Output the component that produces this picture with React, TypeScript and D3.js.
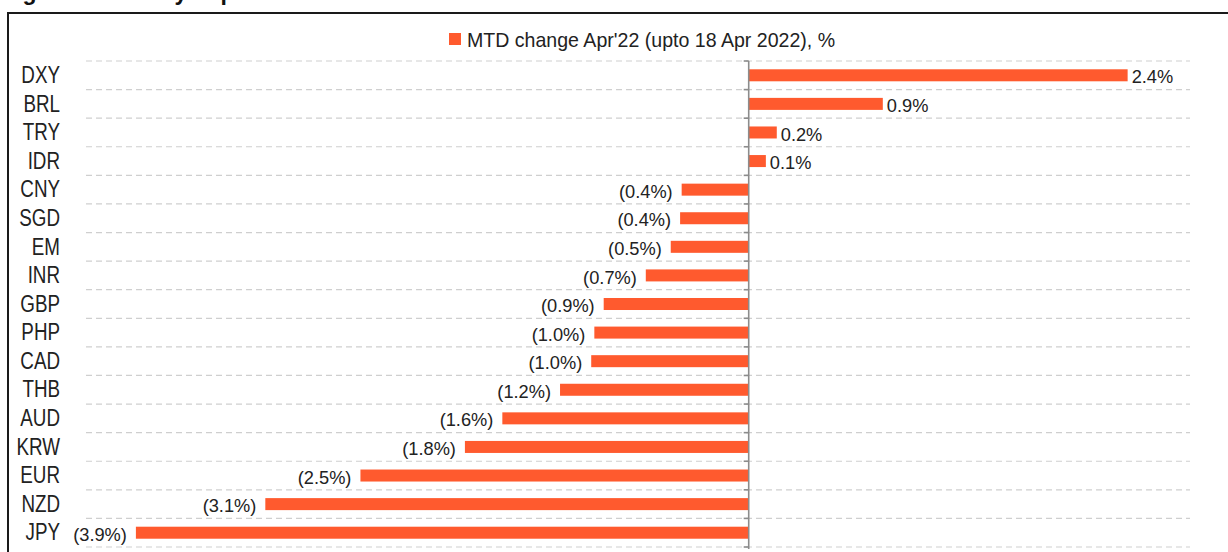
import React from "react";
import * as d3 from "d3";

// MTD change Apr'22 (upto 18 Apr 2022), %
const categories = ["DXY", "BRL", "TRY", "IDR", "CNY", "SGD", "EM", "INR", "GBP", "PHP", "CAD", "THB", "AUD", "KRW", "EUR", "NZD", "JPY"];
const mtdChange = [2.43, 0.86, 0.18, 0.11, -0.43, -0.44, -0.5, -0.66, -0.93, -0.99, -1.01, -1.21, -1.58, -1.82, -2.49, -3.1, -3.93];
const valueDomain = [-4.25, 2.83];
const legendLabel = "MTD change Apr'22 (upto 18 Apr 2022), %";
const cutTitle = "Figure: Currency depreciation";

const W = 1228;
const H = 552;
const BAR = "#ff5a2e";
const TEXT = "#222";
const FONT = "'Liberation Sans', Arial, sans-serif";

const fmt = (v: number) => (v >= 0 ? `${v.toFixed(1)}%` : `(${Math.abs(v).toFixed(1)}%)`);

export default function App() {
    const x = d3.scaleLinear().domain(valueDomain).range([86, 1190]);
    const y = d3.scaleBand<string>()
        .domain(categories)
        .range([61, 547])
        .paddingInner(0.58)
        .paddingOuter(0.29);

    const x0 = x(0);
    const step = y.step();
    const top = y.range()[0];
    const gridYs = d3.range(categories.length + 1).map(i => top + i * step);

    return (
        <svg
            width={W}
            height={H}
            style={{ position: "absolute", left: 0, top: 0, background: "#fff" }}
            fontFamily={FONT}
        >
            {/* title of the page, cut off by the crop */}
            <text x={2} y={0} fontSize={23} fontWeight="bold" fill="#111">{cutTitle}</text>

            {/* frame */}
            <rect x={8} y={13} width={W + 20} height={H + 20} fill="none" stroke="#1a1a1a" strokeWidth={2} />

            {/* legend */}
            <rect x={449} y={33} width={12} height={12} fill={BAR} />
            <text transform="translate(467,47.3) scale(0.955,1)" fontSize={20.5} fill={TEXT}>{legendLabel}</text>

            {/* gridlines */}
            {gridYs.map((gy, i) => (
                <line key={i} x1={86} x2={1190} y1={gy} y2={gy} stroke="#cfcfcf" strokeWidth={1.2} strokeDasharray="6 4" />
            ))}

            {/* bars */}
            {categories.map((c, i) => {
                const v = mtdChange[i];
                const bx = Math.min(x(v), x0);
                return <rect key={c} x={bx} y={y(c)!} width={Math.abs(x(v) - x0)} height={y.bandwidth()} fill={BAR} />;
            })}

            {/* zero axis with ticks */}
            <line x1={x0} x2={x0} y1={top} y2={549} stroke="#8c8c8c" strokeWidth={1.6} />
            {gridYs.map((gy, i) => (
                <line key={i} x1={x0 - 5} x2={x0} y1={gy} y2={gy} stroke="#8c8c8c" strokeWidth={1.6} />
            ))}

            {/* category labels */}
            {categories.map(c => (
                <text
                    key={c}
                    transform={`translate(60,${y(c)! + y.bandwidth() / 2}) scale(0.8,1)`}
                    textAnchor="end"
                    dominantBaseline="central"
                    fontSize={23.5}
                    fill={TEXT}
                >
                    {c}
                </text>
            ))}

            {/* value labels */}
            {categories.map((c, i) => {
                const v = mtdChange[i];
                const lx = v >= 0 ? x(v) + 4 : x(v) - 9;
                return (
                    <text
                        key={c}
                        transform={`translate(${lx},${y(c)! + y.bandwidth() / 2 + 1.5}) scale(0.96,1)`}
                        textAnchor={v >= 0 ? "start" : "end"}
                        dominantBaseline="central"
                        fontSize={19}
                        fill={TEXT}
                    >
                        {fmt(v)}
                    </text>
                );
            })}
        </svg>
    );
}
